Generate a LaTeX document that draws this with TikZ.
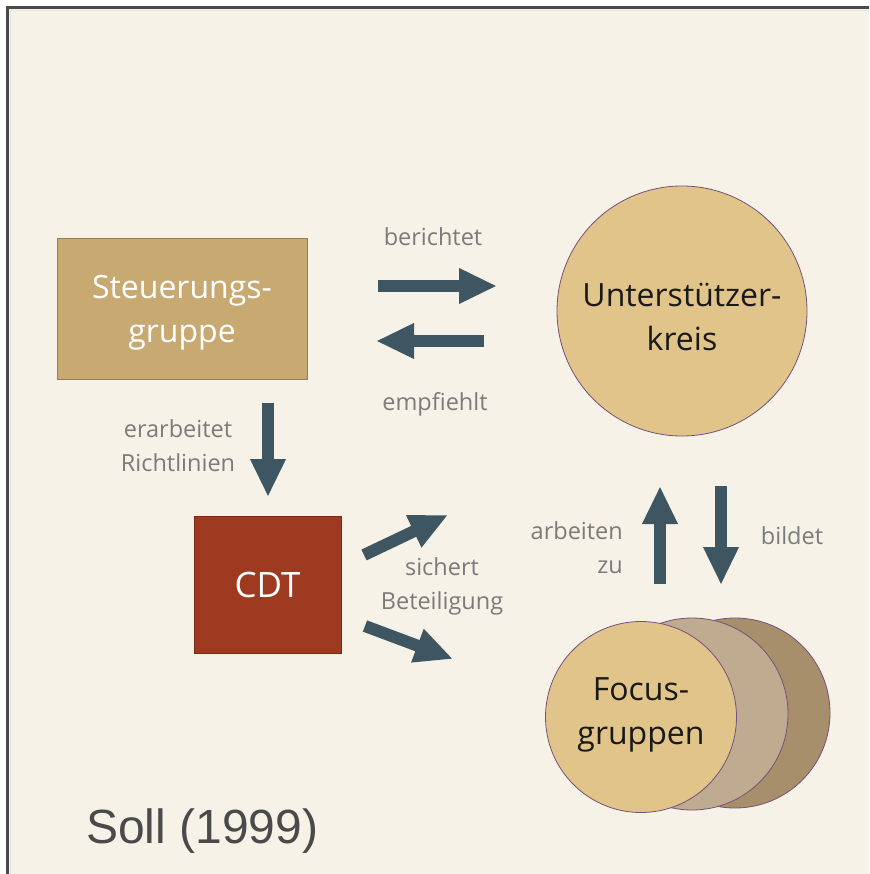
\documentclass[tikz,border=0pt]{standalone}
\usepackage{fontspec}
\setmainfont{Open Sans}
\newfontfamily\arialfont{Liberation Sans}
\usetikzlibrary{arrows.meta}
\definecolor{bgcream}{HTML}{F6F2E7}
\definecolor{tanbox}{HTML}{C9A972}
\definecolor{tanedge}{HTML}{9A7A52}
\definecolor{cdtred}{HTML}{9E3A1F}
\definecolor{cdtedge}{HTML}{7A2A15}
\definecolor{circfill}{HTML}{E1C48A}
\definecolor{circedge}{HTML}{76507A}
\definecolor{midcirc}{HTML}{BFAB90}
\definecolor{darkcirc}{HTML}{A88F6B}
\definecolor{arrowcol}{HTML}{3E5662}
\definecolor{labelgray}{HTML}{7B7B7B}
\definecolor{framecol}{HTML}{4A4A4A}
\tikzset{
  boxnode/.style={draw=tanedge, line width=0.8pt, fill=tanbox, inner sep=0pt},
  circnode/.style={circle, draw=circedge, line width=0.8pt, fill=circfill, inner sep=0pt},
  bigtext/.style={align=center, font=\fontsize{32}{44}\selectfont, inner sep=0pt},
  lbl/.style={text=labelgray, font=\fontsize{23.5}{34}\selectfont, inner sep=0pt},
  blockarrow/.style={draw=arrowcol, line width=12pt, -{Triangle[length=38pt,width=33pt]}},
}
\begin{document}
\begin{tikzpicture}[x=1pt,y=-1pt]
\useasboundingbox (0,0) rectangle (869,874);
\fill[white] (0,0) rectangle (869,874);
\fill[bgcream] (8,8) rectangle (869,874);
\draw[framecol, line width=2.5pt] (869,7.5) -- (7.5,7.5) -- (7.5,874);
\draw[white!80!gray, line width=0.8pt] (869,10) -- (10,10) -- (10,874);

% boxes
\node[boxnode, minimum width=250pt, minimum height=141pt] (steuer) at (182,308.5) {};
\node[bigtext, text=white] (steuertxt) at ([yshift=-4pt]steuer.center) {Steuerungs-\\gruppe};
\node[boxnode, draw=cdtedge, fill=cdtred, minimum width=147pt, minimum height=137pt] (cdt) at (267.5,584.5) {};
\node[bigtext, text=white, font=\fontsize{35}{44}\selectfont] (cdttxt) at (cdt.center) {CDT};

% circles
\node[circnode, minimum size=250pt] (unter) at (682,311) {};
\node[bigtext, text=black!90] (untertxt) at ([yshift=-6pt]unter.center) {Unterstützer-\\kreis};
\node[circle, draw=circedge, line width=0.8pt, fill=darkcirc, minimum size=190pt] (fg3) at (735,713) {};
\node[circle, draw=circedge, line width=0.8pt, fill=midcirc, minimum size=192pt] (fg2) at (692,714) {};
\node[circnode, minimum size=191pt] (focus) at (641,717) {};
\node[bigtext, text=black!90] (focustxt) at ([yshift=2pt]focus.center) {Focus-\\gruppen};

% arrows
\coordinate (b1s) at (378,286); \coordinate (b1e) at (497,286);
\coordinate (b2s) at (484,341); \coordinate (b2e) at (376,341);
\coordinate (d1s) at (268,403); \coordinate (d1e) at (268,497);
\coordinate (c1s) at (364,555); \coordinate (c1e) at (448,515);
\coordinate (c2s) at (365,626); \coordinate (c2e) at (453,659);
\coordinate (u1s) at (660,584); \coordinate (u1e) at (660,486);
\coordinate (u2s) at (721,486); \coordinate (u2e) at (721,585);
\draw[blockarrow] (b1s) -- (b1e);
\draw[blockarrow] (b2s) -- (b2e);
\draw[blockarrow] (d1s) -- (d1e);
\draw[blockarrow] (c1s) -- (c1e);
\draw[blockarrow] (c2s) -- (c2e);
\draw[blockarrow] (u1s) -- (u1e);
\draw[blockarrow] (u2s) -- (u2e);

% labels
\node[lbl] (lber) at (433,237) {berichtet};
\node[lbl] (lemp) at (435,404) {empfiehlt};
\node[lbl, align=center] (lera) at (178,446) {erarbeitet\\Richtlinien};
\node[lbl, align=center] (lsic) at (442,586) {sichert\\Beteiligung};
\node[lbl, align=right, anchor=east] (larb) at (623,548) {arbeiten\\zu};
\node[lbl] (lbil) at (792,536) {bildet};

\node[text=framecol, font=\arialfont\fontsize{48}{54}\selectfont, anchor=base west, inner sep=0pt] (soll) at (86,843) {Soll (1999)};
\end{tikzpicture}
\end{document}
